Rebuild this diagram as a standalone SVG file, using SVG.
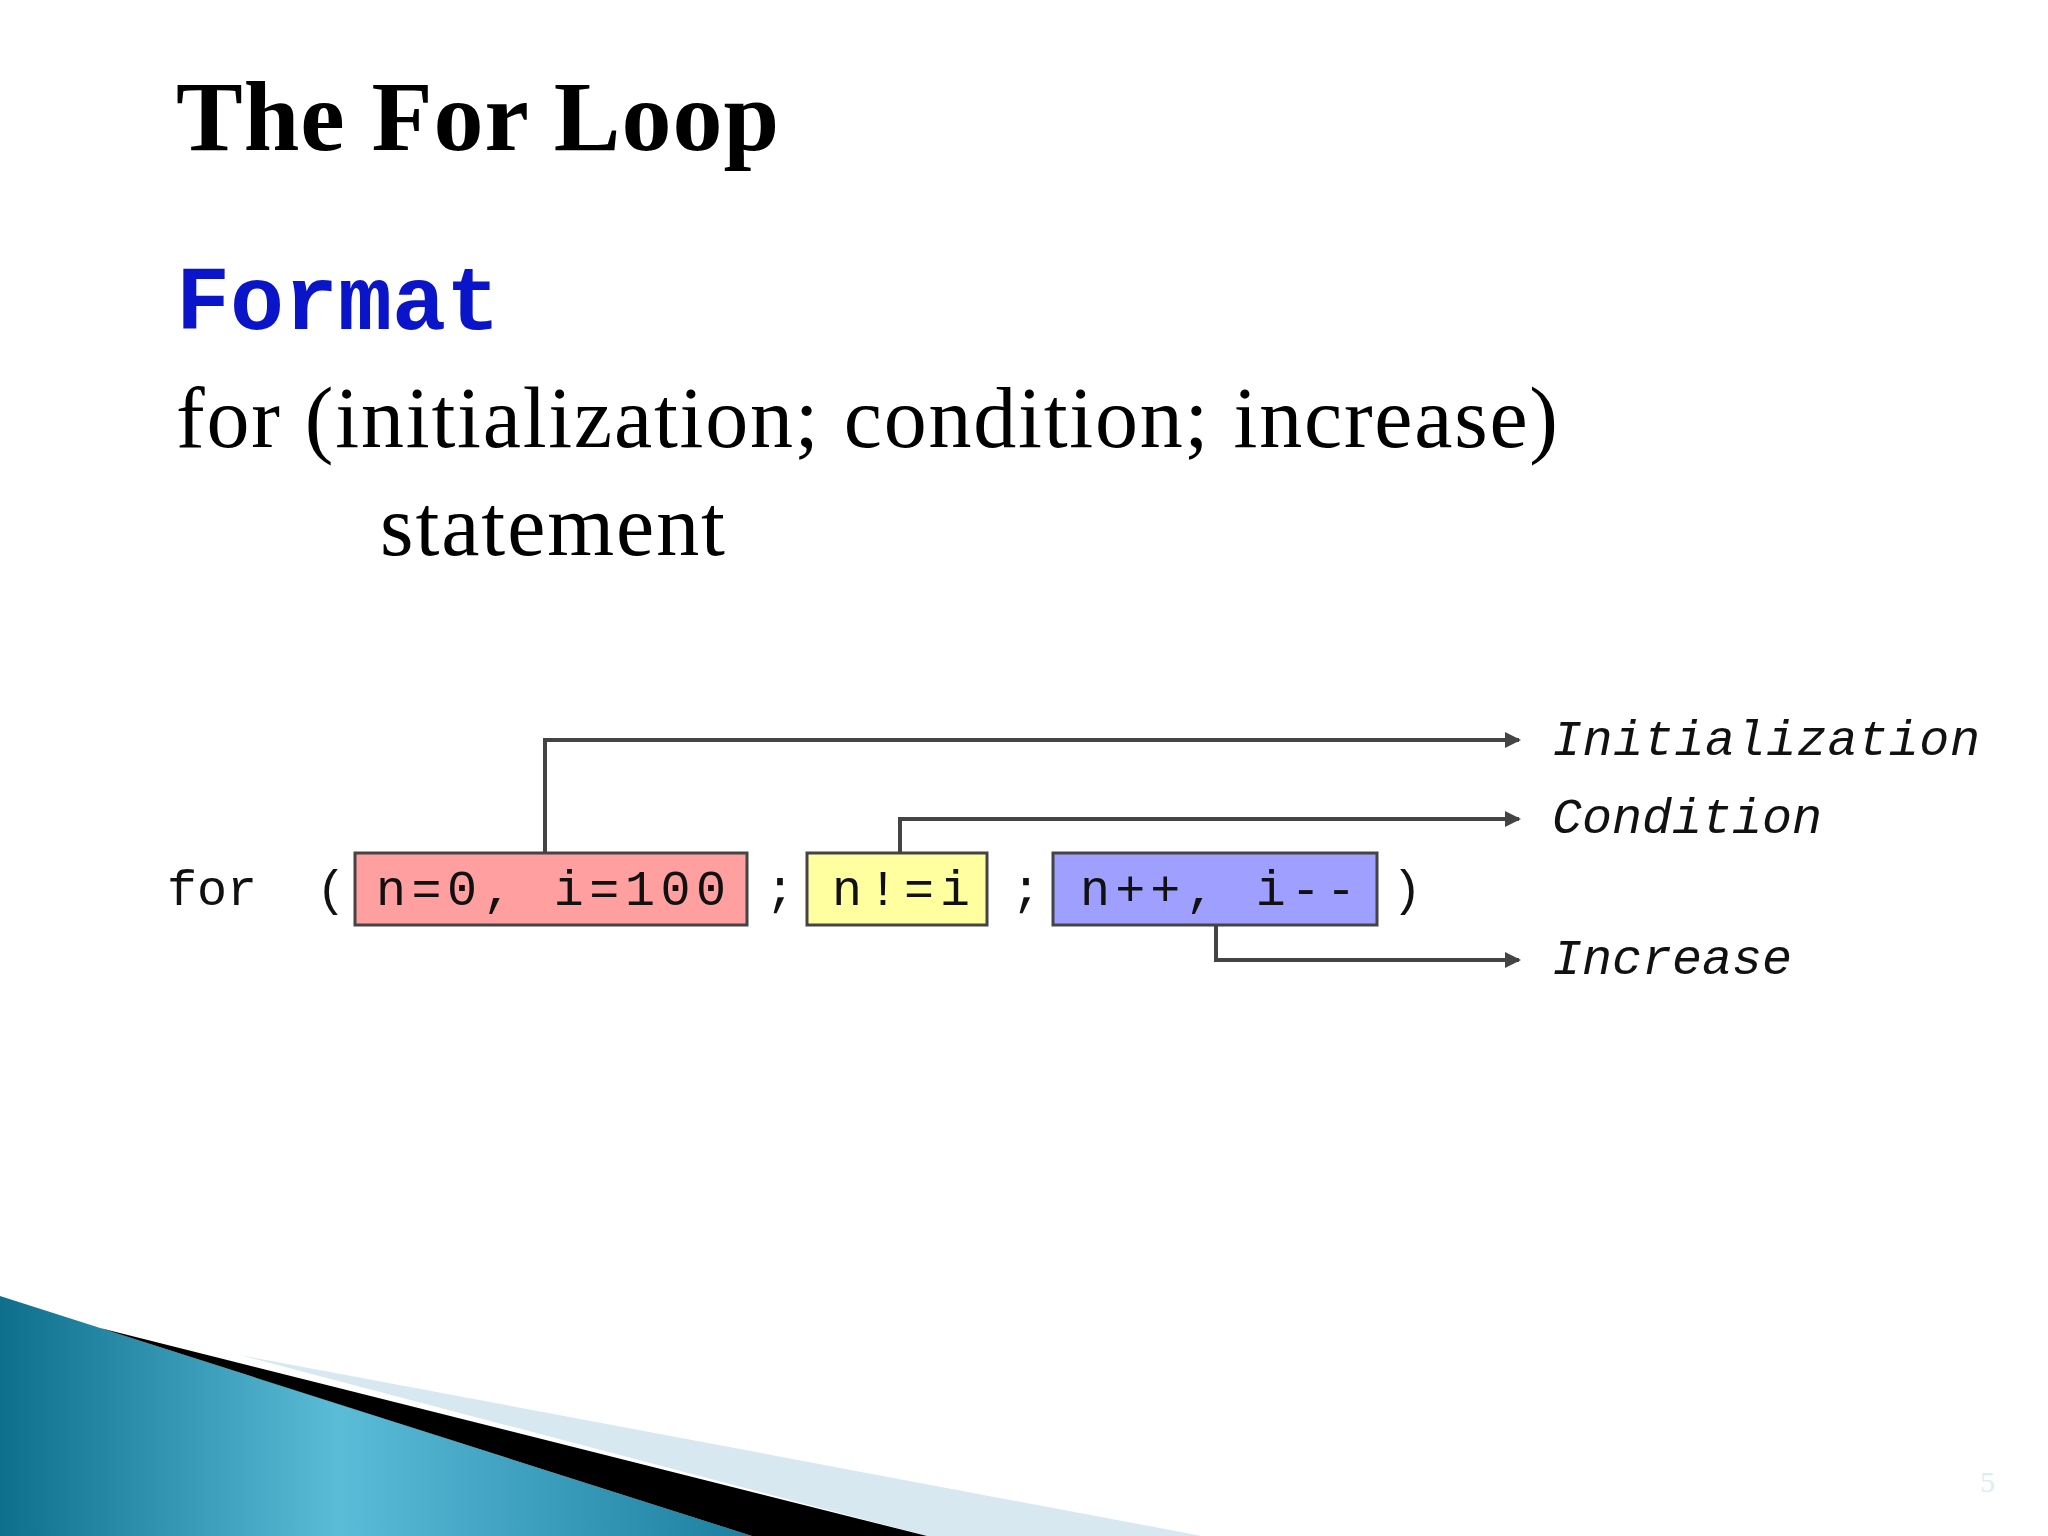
<svg xmlns="http://www.w3.org/2000/svg" width="2048" height="1536" viewBox="0 0 2048 1536">
<defs>
<style>
.mono{font-family:"Liberation Mono","DejaVu Sans Mono",monospace;font-size:50px;fill:#111}
.lbl{font-family:"Liberation Mono","DejaVu Sans Mono",monospace;font-size:50px;font-style:italic;fill:#111}
.box{stroke:#444;stroke-width:3}
.con{fill:none;stroke:#444;stroke-width:4}
</style>
<linearGradient id="bg" x1="0" y1="0" x2="1" y2="0">
<stop offset="0" stop-color="#0e6f8c"/><stop offset="0.45" stop-color="#5bbcd8"/><stop offset="1" stop-color="#1b7fa0"/>
</linearGradient>
<marker id="ah" markerWidth="16" markerHeight="16" refX="14" refY="8" orient="auto" markerUnits="userSpaceOnUse"><path d="M0,0 L16,8 L0,16 Z" fill="#444"/></marker>
</defs>
<rect width="2048" height="1536" fill="#fff"/>
<polygon points="240,1355 1202,1536 927,1536" fill="#d8e8f0"/>
<polygon points="0,1296 752,1536 0,1536" fill="url(#bg)"/>
<polygon points="100,1328 927,1536 752,1536" fill="#000"/>
<text x="176" y="150" font-family="Liberation Serif,serif" font-weight="bold" font-size="100" textLength="603">The For Loop</text>
<text x="176" y="329" font-family="Liberation Mono,monospace" font-weight="bold" font-size="90" fill="#0a14c8">Format</text>
<text x="176" y="447" font-family="Liberation Serif,serif" font-size="86" textLength="1382">for (initialization; condition; increase)</text>
<text x="380" y="555" font-family="Liberation Serif,serif" font-size="86" textLength="345">statement</text>
<g id="connectors">
<polyline class="con" points="545,853 545,740 1519,740" marker-end="url(#ah)"/>
<polyline class="con" points="900,853 900,819 1519,819" marker-end="url(#ah)"/>
<polyline class="con" points="1216,925 1216,960 1519,960" marker-end="url(#ah)"/>
</g>
<g id="for"><text class="mono" x="167" y="905">for</text><text class="mono" x="316" y="905">(</text></g>
<g id="init"><rect class="box" x="355" y="853" width="392" height="72" fill="#ff9f9f"/><text class="mono" x="376" y="905" textLength="350">n=0, i=100</text></g>
<text class="mono" x="765" y="905">;</text>
<g id="cond"><rect class="box" x="807" y="853" width="180" height="72" fill="#ffff9f"/><text class="mono" x="832" y="905" textLength="138">n!=i</text></g>
<text class="mono" x="1011" y="905">;</text>
<g id="inc"><rect class="box" x="1053" y="853" width="324" height="72" fill="#9f9fff"/><text class="mono" x="1080" y="905" textLength="276">n++, i--</text></g>
<text class="mono" x="1392" y="905">)</text>
<g id="lInit"><text class="lbl" x="1552" y="755" textLength="428">Initialization</text></g>
<g id="lCond"><text class="lbl" x="1552" y="833">Condition</text></g>
<g id="lInc"><text class="lbl" x="1552" y="974">Increase</text></g>
<text x="1980" y="1492" font-family="Liberation Serif,serif" font-size="30" fill="#d8eef5">5</text>
</svg>
